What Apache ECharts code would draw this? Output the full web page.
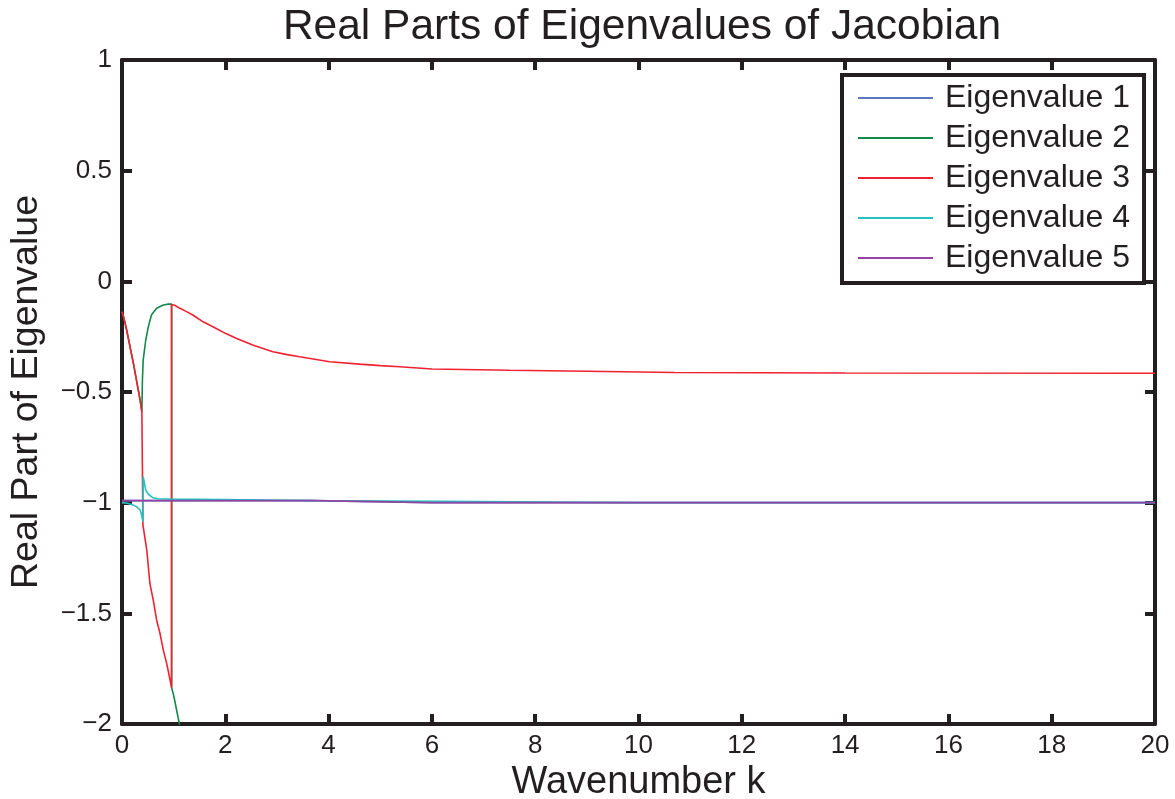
<!DOCTYPE html>
<html>
<head>
<meta charset="utf-8">
<title>Real Parts of Eigenvalues of Jacobian</title>
<script src="https://cdn.jsdelivr.net/npm/echarts@6/dist/echarts.min.js"></script>
<style>
  html, body { margin: 0; padding: 0; background: #ffffff; }
  #chart { width: 1175px; height: 799px; }
</style>
</head>
<body>
<div id="chart"></div>
<script>
// Wavenumber axis ticks and eigenvalue axis ticks
const xTicks = [0, 2, 4, 6, 8, 10, 12, 14, 16, 18, 20];
const yTicks = [-2, -1.5, -1, -0.5, 0, 0.5, 1];

const seriesNames = ['Eigenvalue 1', 'Eigenvalue 2', 'Eigenvalue 3', 'Eigenvalue 4', 'Eigenvalue 5'];

// [k, Re(lambda)] pairs for each eigenvalue branch
const eig1 = [[0, -0.991], [1, -0.991], [2, -0.991], [3, -0.991], [3.73, -0.991], [3.76, -1.0], [6, -1.0], [10, -1.0], [15, -1.0], [20, -1.0]];

const eig2 = [
  [0, -0.137], [0.03, -0.16], [0.09, -0.22], [0.155, -0.295], [0.22, -0.37], [0.28, -0.446],
  [0.35, -0.536], [0.385, -0.59], [0.395, -0.45], [0.41, -0.356], [0.46, -0.265], [0.51, -0.205],
  [0.57, -0.152], [0.67, -0.122], [0.8, -0.107], [0.9, -0.103], [0.96, -0.103],
  [0.96, -1.835], [1.0, -1.87], [1.06, -1.94], [1.12, -2.01], [1.16, -2.06]
];

const eig3 = [
  [0, -0.137], [0.03, -0.16], [0.09, -0.22], [0.155, -0.295], [0.22, -0.37], [0.28, -0.446],
  [0.35, -0.536], [0.385, -0.59], [0.405, -1.10], [0.48, -1.214], [0.54, -1.365], [0.605, -1.44],
  [0.67, -1.53], [0.735, -1.59], [0.8, -1.666], [0.865, -1.726], [0.93, -1.80], [0.96, -1.835],
  [0.96, -0.105], [1.02, -0.108], [1.12, -0.122], [1.25, -0.137], [1.37, -0.152], [1.57, -0.183],
  [1.76, -0.205], [2.0, -0.235], [2.22, -0.258], [2.53, -0.288], [2.92, -0.318], [3.2, -0.331],
  [3.44, -0.341], [4.02, -0.363], [4.6, -0.374], [5.0, -0.381], [5.38, -0.386], [6.0, -0.396],
  [7.5, -0.402], [9, -0.406], [10.7, -0.412], [14, -0.414], [20, -0.415]
];

const eig4 = [
  [0, -1.0], [0.1, -1.003], [0.19, -1.008], [0.28, -1.018], [0.35, -1.033], [0.38, -1.056],
  [0.405, -1.086], [0.41, -0.883], [0.46, -0.943], [0.51, -0.962], [0.6, -0.978], [0.7, -0.982],
  [0.96, -0.984], [0.97, -0.991], [3.73, -0.991], [3.76, -1.0], [10, -1.0], [20, -1.0]
];

const eig5 = [[0, -0.991], [1, -0.991], [2, -0.991], [3, -0.991], [3.73, -0.991], [3.76, -1.0], [6, -1.0], [10, -1.0], [15, -1.0], [20, -1.0]];

const seriesData = [eig1, eig2, eig3, eig4, eig5];
const seriesColors = ['#5b78c0', '#118a4a', '#f02232', '#22c2c2', '#9444a2'];

const ink = '#231f20';
const fontFamily = '"Liberation Sans", Arial, Helvetica, sans-serif';

const chart = echarts.init(document.getElementById('chart'), null, { renderer: 'canvas' });

function minusSign(v) {
  return String(v).replace('-', '\u2212');
}

const frameLine = { show: true, onZero: false, lineStyle: { color: ink, width: 4 } };
const innerTick = { show: true, inside: true, length: 10, lineStyle: { color: ink, width: 4 } };

const option = {
  backgroundColor: '#ffffff',
  animation: false,
  title: {
    text: 'Real Parts of Eigenvalues of Jacobian',
    left: 637,
    textAlign: 'center',
    top: 1,
    textStyle: { fontFamily, fontSize: 42.5, fontWeight: 'normal', color: ink }
  },
  legend: {
    data: seriesNames,
    orient: 'vertical',
    left: 842,
    top: 75,
    padding: [7, 14, 9, 16],
    itemGap: 8,
    itemWidth: 75,
    itemHeight: 2,
    icon: 'rect',
    borderColor: ink,
    borderWidth: 4,
    backgroundColor: '#ffffff',
    textStyle: { fontFamily, fontSize: 32, color: ink, lineHeight: 30, padding: [0, 0, 0, 7] }
  },
  grid: { left: 122, right: 20, top: 60, bottom: 75, containLabel: false, outerBoundsMode: 'none' },
  xAxis: [
    {
      type: 'value', min: 0, max: 20, interval: 2, position: 'bottom',
      name: 'Wavenumber k', nameLocation: 'middle', nameGap: 36,
      nameTextStyle: { fontFamily, fontSize: 38, color: ink },
      axisLine: frameLine, axisTick: innerTick,
      axisLabel: { fontFamily, fontSize: 26, color: ink, margin: 9,
        formatter: v => xTicks.includes(v) ? minusSign(v) : '' },
      splitLine: { show: false }
    },
    {
      type: 'value', min: 0, max: 20, interval: 2, position: 'top',
      axisLine: frameLine, axisTick: innerTick,
      axisLabel: { show: false }, splitLine: { show: false }
    }
  ],
  yAxis: [
    {
      type: 'value', min: -2, max: 1, interval: 0.5, position: 'left',
      name: 'Real Part of Eigenvalue', nameLocation: 'middle', nameGap: 76,
      nameTextStyle: { fontFamily, fontSize: 37.5, color: ink },
      axisLine: frameLine, axisTick: innerTick,
      axisLabel: { fontFamily, fontSize: 26, color: ink, margin: 10,
        formatter: v => yTicks.includes(v) ? minusSign(v) : '' },
      splitLine: { show: false }
    },
    {
      type: 'value', min: -2, max: 1, interval: 0.5, position: 'right',
      axisLine: frameLine, axisTick: innerTick,
      axisLabel: { show: false }, splitLine: { show: false }
    }
  ],
  series: seriesNames.map((name, i) => ({
    name,
    type: 'line',
    xAxisIndex: 0,
    yAxisIndex: 0,
    data: seriesData[i],
    showSymbol: false,
    symbol: 'none',
    clip: true,
    color: seriesColors[i],
    lineStyle: { color: seriesColors[i], width: 1.6 },
    z: 2 + i
  }))
};

chart.setOption(option);
</script>
</body>
</html>
